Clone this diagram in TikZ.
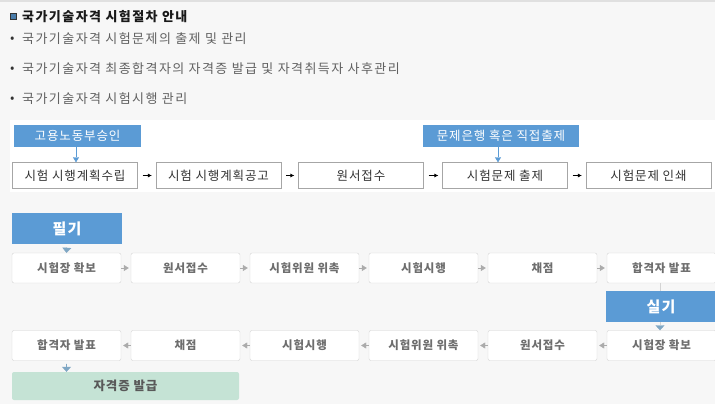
\documentclass[tikz,border=0pt]{standalone}
\usepackage{xcolor}
\usepackage{fontspec}
\setmainfont{Noto Sans CJK KR}[LetterSpace=7]
\newfontfamily\listfont{Noto Sans CJK KR}[LetterSpace=11]
\usepackage{tikz}
\usetikzlibrary{arrows.meta}
\usetikzlibrary{positioning}
\tikzset{>=latex}
\definecolor{pagebg}{HTML}{F7F7F7}
\definecolor{hdblue}{HTML}{5B9BD5}
\definecolor{tipblue}{HTML}{7FA7C4}
\definecolor{boxline}{HTML}{D4D4D4}
\definecolor{boxtext}{HTML}{6E6E6E}
\definecolor{planline}{HTML}{A6A6A6}
\definecolor{passgreen}{HTML}{C5E3D5}
\definecolor{arrgray}{HTML}{ABABAB}
\tikzstyle{plan} = [rectangle, draw=planline, fill=white, minimum width=125pt, minimum height=26pt, inner sep=0, text=black!80, font=\fontsize{12.5}{12.5}\selectfont]
\tikzstyle{banner} = [rectangle, fill=hdblue, text=white, minimum height=22pt, inner sep=0, font=\fontsize{12.5}{12.5}\selectfont]
\tikzstyle{stage} = [rectangle, rounded corners=2pt, draw=boxline, fill=white, minimum width=109pt, minimum height=30pt, inner sep=0, text=boxtext, font=\bfseries\fontsize{11.5}{12}\selectfont]
\tikzstyle{phase} = [rectangle, fill=hdblue, text=white, minimum width=110pt, minimum height=31pt, inner sep=0, font=\bfseries\fontsize{15}{15}\selectfont]
\tikzstyle{flow} = [-{Triangle[width=6pt,length=5pt]}, draw=arrgray, fill=arrgray]
\tikzstyle{drop} = [-{Triangle[width=9pt,length=5pt]}, draw=tipblue, fill=tipblue]
\tikzstyle{item} = [draw=none, anchor=west, inner sep=0, text=black!62, font=\listfont\fontsize{13}{13}\selectfont]

\begin{document}
\begin{tikzpicture}[x=1pt, y=-1pt]
\useasboundingbox (0,0) rectangle (715,404);
\clip (0,0) rectangle (715,404);
\fill [pagebg] (0,0) rectangle (715,404);
\draw [black!12, line width=2pt] (0,1) -- (715,1);
\fill [white] (10,120) rectangle (715,192);
% title and items
\node [rectangle, draw=black!80, fill=hdblue!80!black, minimum size=6pt, inner sep=0] (sq) at (13,16.5) {};
\node [item, text=black!90, font=\listfont\bfseries\fontsize{13}{13}\selectfont] (title) at (22,16.5) {국가기술자격 시험절차 안내};
\node [item, text=black!80] (b1) at (10,39.5) {•};
\node [item] (t1) at (22,39) {국가기술자격 시험문제의 출제 및 관리};
\node [item, text=black!80] (b2) at (10,69.5) {•};
\node [item] (t2) at (22,69) {국가기술자격 최종합격자의 자격증 발급 및 자격취득자 사후관리};
\node [item, text=black!80] (b3) at (10,99.5) {•};
\node [item] (t3) at (22,99) {국가기술자격 시험시행 관리};
% planning row
\node [plan] (p1) at (75,175.5) {시험 시행계획수립};
\node [plan] (p2) at (218.5,175.5) {시험 시행계획공고};
\node [plan] (p3) at (361,175.5) {원서접수};
\node [plan] (p4) at (505,175.5) {시험문제 출제};
\node [plan] (p5) at (648.5,175.5) {시험문제 인쇄};
\node [banner, minimum width=127pt] (ok) at (77.5,136) {고용노동부승인};
\node [banner, minimum width=156pt] (bank) at (501,136) {문제은행 혹은 직접출제};
\draw [-{Triangle[width=6pt,length=5pt]}, draw=hdblue, fill=hdblue] (ok.south -| p1.north) ++(1,0) -- ([xshift=1pt]p1.north);
\draw [-{Triangle[width=6pt,length=5pt]}, draw=hdblue, fill=hdblue] ([xshift=-3pt]bank.south) -- ([xshift=-7pt]p4.north);
\foreach \a/\b in {p1/p2, p2/p3, p3/p4, p4/p5}
  \draw [-{Latex[length=4pt,width=4pt]}, black] ([xshift=5pt]\a.east) -- ([xshift=-4pt]\b.west);
% written exam
\node [phase] (pilgi) at (67,228.5) {필기};
\node [stage] (w1) at (66.5,268) {시험장 확보};
\node [stage] (w2) at (185.5,268) {원서접수};
\node [stage] (w3) at (304.5,268) {시험위원 위촉};
\node [stage] (w4) at (423.5,268) {시험시행};
\node [stage] (w5) at (542.5,268) {채점};
\node [stage] (w6) at (661.5,268) {합격자 발표};
\foreach \a/\b in {w1/w2, w2/w3, w3/w4, w4/w5, w5/w6}
  \draw [flow] (\a.east) -- ([xshift=-2pt]\b.west);
\draw [drop, shorten <=3pt] (pilgi.south) -- (w1.north);
% practical exam
\node [stage] (s1) at (661.5,345.5) {시험장 확보};
\node [stage] (s2) at (542.5,345.5) {원서접수};
\node [stage] (s3) at (423.5,345.5) {시험위원 위촉};
\node [stage] (s4) at (304.5,345.5) {시험시행};
\node [stage] (s5) at (185.5,345.5) {채점};
\node [stage] (s6) at (66.5,345.5) {합격자 발표};
\foreach \a/\b in {s1/s2, s2/s3, s3/s4, s4/s5, s5/s6}
  \draw [flow] (\a.west) -- ([xshift=2pt]\b.east);
\draw [-{Triangle[width=9pt,length=5pt,color=tipblue]}, draw=boxline] ([xshift=-1.5pt]w6.south) -- ([xshift=-1.5pt]s1.north);
\node [phase] (silgi) at (661,306.5) {실기};
\node [rectangle, rounded corners=2pt, fill=passgreen, minimum width=227pt, minimum height=28pt, inner sep=0, text=black!65, font=\bfseries\fontsize{12.5}{13}\selectfont] (cert) at (125.5,386) {자격증 발급};
\draw [drop, shorten <=3pt] (s6.south) -- (s6.south |- cert.north);
\end{tikzpicture}
\end{document}
